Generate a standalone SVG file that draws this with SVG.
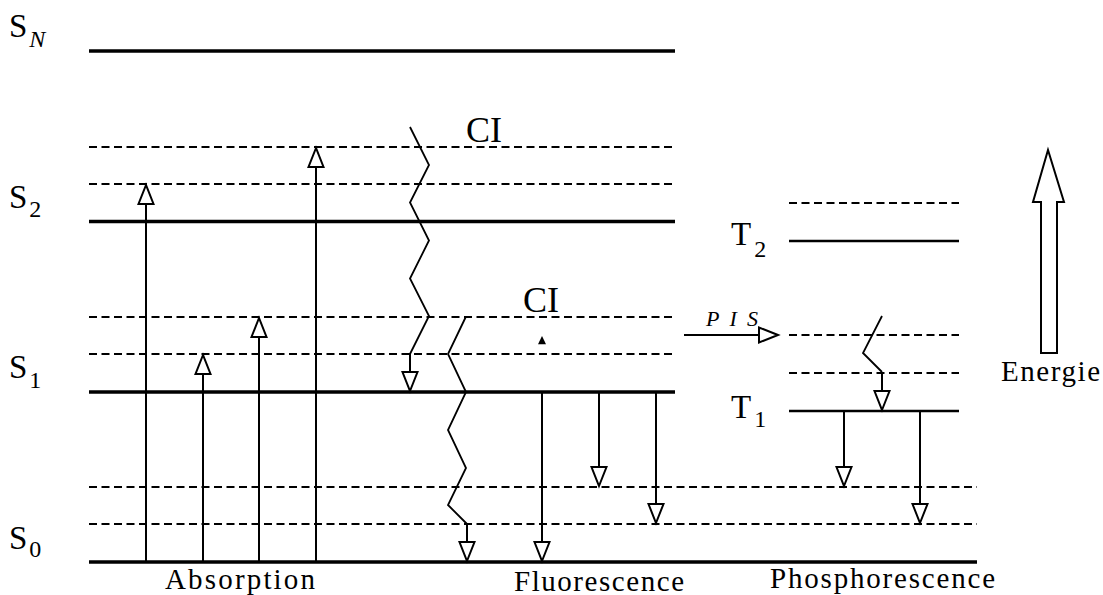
<svg xmlns="http://www.w3.org/2000/svg" width="1103" height="595" viewBox="0 0 1103 595">
<style>
.thick{stroke:#000;stroke-width:3.5;fill:none}
.mid{stroke:#000;stroke-width:2.5;fill:none}
.dash{stroke:#000;stroke-width:2;stroke-dasharray:8 4.5;fill:none}
.arr{stroke:#000;stroke-width:2;fill:none;marker-end:url(#open)}
.wave{stroke:#000;stroke-width:1.8;fill:none;stroke-linejoin:miter}
text{fill:#000;font-family:"Liberation Serif","Times New Roman",Tinos,"Noto Serif","DejaVu Serif",FreeSerif,"Nimbus Roman","Nimbus Roman No9 L",Georgia,serif}
</style>
<defs>
<marker id="open" markerUnits="userSpaceOnUse" viewBox="-22 -10 24 20" refX="0" refY="0" markerWidth="24" markerHeight="20" orient="auto" overflow="visible">
<polygon points="0,0 -19,-7.5 -19,7.5" fill="#fff" stroke="#000" stroke-width="2" stroke-linejoin="miter"/>
</marker>
</defs>
<rect width="1103" height="595" fill="#fff"/>

<g id="levels">
<line class="thick" x1="89" y1="51" x2="675" y2="51"/>
<line class="dash" x1="89" y1="147" x2="675" y2="147"/>
<line class="dash" x1="89" y1="184" x2="675" y2="184"/>
<line class="thick" x1="89" y1="221.5" x2="675" y2="221.5"/>
<line class="dash" x1="89" y1="317" x2="675" y2="317"/>
<line class="dash" x1="89" y1="354" x2="675" y2="354"/>
<line class="thick" x1="89" y1="392" x2="675" y2="392"/>
<line class="dash" x1="89" y1="487" x2="977" y2="487"/>
<line class="dash" x1="89" y1="524" x2="977" y2="524"/>
<line class="thick" x1="89" y1="562" x2="977" y2="562"/>
<line class="dash" x1="789" y1="203" x2="959" y2="203"/>
<line class="mid" x1="789" y1="241" x2="959" y2="241"/>
<line class="dash" x1="789" y1="335" x2="959" y2="335"/>
<line class="dash" x1="789" y1="373" x2="959" y2="373"/>
<line class="mid" x1="789" y1="411" x2="959" y2="411"/>
</g>

<g id="labels">
<text x="9" y="37" font-size="33">S<tspan dx="2" dy="10" font-size="24" font-style="italic">N</tspan></text>
<text x="9" y="208" font-size="33">S<tspan dx="2" dy="9" font-size="24">2</tspan></text>
<text x="9" y="378" font-size="33">S<tspan dx="2" dy="10" font-size="24">1</tspan></text>
<text x="9" y="549" font-size="33">S<tspan dx="2" dy="8" font-size="24">0</tspan></text>
<text x="731" y="245" font-size="33">T<tspan dx="3" dy="12" font-size="24">2</tspan></text>
<text x="731" y="418" font-size="33">T<tspan dx="3" dy="9" font-size="24">1</tspan></text>
<text x="466" y="142" font-size="36">CI</text>
<text x="523" y="312" font-size="36">CI</text>
<text x="706" y="326" font-size="22" font-style="italic" textLength="52" lengthAdjust="spacing">PIS</text>
<text x="165" y="589" font-size="29" textLength="150" lengthAdjust="spacing">Absorption</text>
<text x="514" y="591" font-size="29" textLength="170" lengthAdjust="spacing">Fluorescence</text>
<text x="770" y="588" font-size="29" textLength="225" lengthAdjust="spacing">Phosphorescence</text>
<text x="1001" y="381" font-size="29" textLength="99" lengthAdjust="spacing">Energie</text>
</g>

<g id="connectors">
<line class="arr" x1="146" y1="562" x2="146" y2="185"/>
<line class="arr" x1="203" y1="562" x2="203" y2="355"/>
<line class="arr" x1="259" y1="562" x2="259" y2="318"/>
<line class="arr" x1="316" y1="562" x2="316" y2="148"/>
<line class="arr" x1="542" y1="392" x2="542" y2="561"/>
<line class="arr" x1="599" y1="392" x2="599" y2="486"/>
<line class="arr" x1="656" y1="392" x2="656" y2="523"/>
<line class="arr" x1="844" y1="411" x2="844" y2="486"/>
<line class="arr" x1="920" y1="411" x2="920" y2="523"/>
<polyline class="wave" points="410,127 429,165 410,202.5 429,240.5 410,278.5 429,316 410,354"/>
<line class="arr" x1="410" y1="353" x2="410" y2="391"/>
<polyline class="wave" points="466,316.5 448,354 466,392 448,430 466,468 448,505 467,524"/>
<line class="arr" x1="467" y1="523" x2="467" y2="561"/>
<polyline class="wave" points="882,316 863,353 882,372"/>
<line class="arr" x1="882" y1="372" x2="882" y2="410"/>
<line class="arr" x1="684" y1="335" x2="778" y2="335"/>
</g>

<g id="marker-small">
<polygon points="542,336 538,344.3 546,344.3" fill="#000"/>
</g>

<g id="energy-arrow">
<polygon points="1041,353 1057,353 1057,202 1064,202 1048,150 1033,202 1041,202" fill="#fff" stroke="#000" stroke-width="2" stroke-linejoin="miter"/>
</g>
</svg>
